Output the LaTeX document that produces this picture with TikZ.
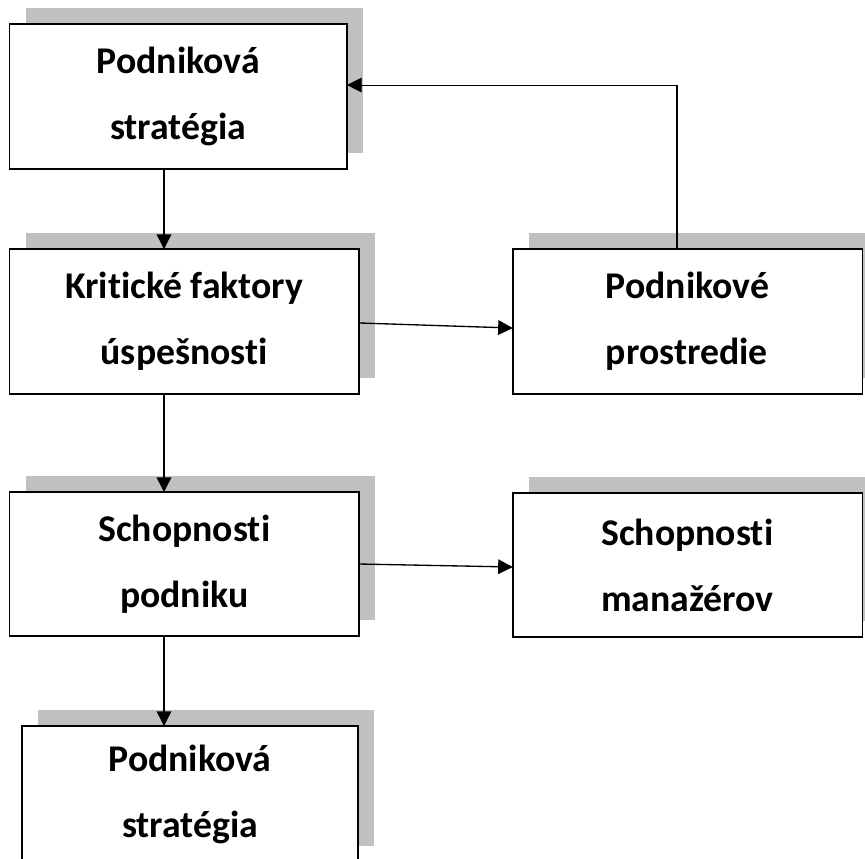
\documentclass[tikz,border=0pt]{standalone}
\usepackage{fontspec}
\setmainfont{Carlito}[Ligatures=NoCommon]
\usepackage{tikz}
\usetikzlibrary{arrows.meta,calc,positioning,shadows}
\definecolor{shadowgray}{RGB}{192,192,192}
\tikzset{%
	block/.style    = {draw, rectangle, fill=white, line width=1pt, inner sep=0pt, outer sep=0pt,
	                   minimum height=108.75pt, align=center,
	                   font=\fontsize{28.3}{49.5}\selectfont\bfseries,
	                   drop shadow={shadow xshift=12pt, shadow yshift=12pt, fill=shadowgray, opacity=1}}, % Box
	link/.style     = {->, line width=1pt}, % Arrow
	back/.style     = {->, line width=0.8pt}, % Feedback
	waypoint/.style = {coordinate}, % Column
}

\begin{document}
\begin{tikzpicture}[x=0.75pt, y=-0.75pt, >={Triangle[length=11pt,width=11pt]}]
		\useasboundingbox (0,0) rectangle (865,858);
		\node[block, minimum width=253pt] (strat) at (178.25,96.5) {Podniková\\stratégia};
		\node[block, minimum width=262pt] (ksf) at (184.25,321.5) {Kritické faktory\\úspešnosti};
		\node[block, minimum width=262pt, minimum height=108pt] (schp) at (184.25,564) {Schopnosti\\podniku};
		\node[block, minimum width=252pt, minimum height=102pt] (strat2) at (190,794) {Podniková\\stratégia};
		\node[block, minimum width=262pt, align=left] (env) at (687.5,321.5) {Podnikové\\prostredie};
		\node[block, minimum width=262pt, minimum height=108pt, align=left] (mgr) at (687.5,565) {Schopnosti\\manažérov};
		\node[waypoint] (col) at (164,0) {};
		\draw[link] (strat.south -| col) -- (ksf.north -| col);
		\draw[link] (ksf.south -| col) -- (schp.north -| col);
		\draw[link] (schp.south -| col) -- (strat2.north -| col);
		\draw[link] ([yshift=-1.1pt]ksf.east) -- ([yshift=-4.9pt]env.west);
		\draw[link] (schp.east) -- ([yshift=-1.5pt]mgr.west);
		\draw[back] ([xshift=-7.9pt]env.north) |- ([yshift=8.6pt]strat.east);
		\end{tikzpicture}
\end{document}
